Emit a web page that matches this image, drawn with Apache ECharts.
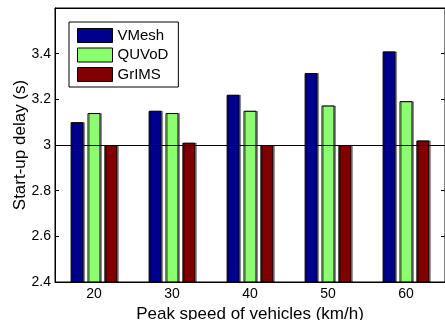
<!DOCTYPE html>
<html style="height: 100%">
<head>
    <meta charset="utf-8">
    <script src="https://cdn.jsdelivr.net/npm/echarts@6/dist/echarts.min.js"></script>
</head>
<body style="height: 100%; margin: 0; background: #fff">
    <div id="container" style="width: 445px; height: 320px"></div>
    <script type="text/javascript">

        let speeds = ['20', '30', '40', '50', '60'];
        let vmesh = [3.10, 3.15, 3.22, 3.315, 3.41];
        let quvod = [3.14, 3.14, 3.15, 3.173, 3.192];
        let grims = [3.00, 3.01, 3.00, 3.00, 3.02];

        let font = 'Liberation Sans, Arial, sans-serif';

        function makeBar(name, values, color) {
            return {
                name: name,
                type: 'bar',
                data: values,
                barWidth: 13,
                barGap: '30%',
                itemStyle: {
                    color: color,
                    borderColor: '#000',
                    borderWidth: 1,
                    shadowColor: 'rgba(0,0,0,0.35)',
                    shadowOffsetX: 1.5
                }
            };
        }

        let series = [
            makeBar('VMesh', vmesh, '#00008f'),
            makeBar('QUVoD', quvod, '#8cff70'),
            makeBar('GrIMS', grims, '#800000')
        ];
        // reference line at 3 s
        series[2].markLine = {
            silent: true,
            symbol: 'none',
            label: { show: false },
            lineStyle: { color: '#000', width: 1, type: 'solid' },
            data: [{ yAxis: 3 }]
        };

        let chart = echarts.init(document.getElementById('container'));
        chart.setOption({
            animation: false,
            textStyle: { fontFamily: font },
            grid: {
                left: 55, right: 0, top: 8, bottom: 38,
                outerBoundsMode: 'none',
                show: true, borderColor: '#000', borderWidth: 1
            },
            legend: {
                orient: 'vertical',
                left: 69, top: 22,
                padding: [6, 10, 5, 8],
                itemWidth: 35, itemHeight: 14, itemGap: 4.5,
                borderColor: '#000', borderWidth: 1,
                backgroundColor: '#fff',
                textStyle: { fontSize: 15, color: '#000', fontFamily: font },
                icon: 'rect',
                itemStyle: { borderColor: '#000', borderWidth: 1 },
                data: ['VMesh', 'QUVoD', 'GrIMS']
            },
            xAxis: [
                {
                    type: 'category',
                    data: speeds,
                    name: 'Peak speed of vehicles (km/h)',
                    nameLocation: 'middle',
                    nameGap: 22,
                    nameTextStyle: { fontSize: 17, color: '#000' },
                    axisLine: { lineStyle: { color: '#000' } },
                    axisTick: { inside: true, alignWithLabel: true, length: 4, lineStyle: { color: '#000' } },
                    axisLabel: { fontSize: 14, color: '#000', margin: 5 }
                },
                {
                    type: 'category',
                    data: speeds,
                    position: 'top',
                    axisLine: { lineStyle: { color: '#000' } },
                    axisTick: { inside: true, alignWithLabel: true, length: 4, lineStyle: { color: '#000' } },
                    axisLabel: { show: false }
                }
            ],
            yAxis: [
                {
                    type: 'value',
                    min: 2.4, max: 3.6, interval: 0.2,
                    name: 'Start-up delay (s)',
                    nameLocation: 'middle',
                    nameGap: 26,
                    nameMoveOverlap: false,
                    nameTextStyle: { fontSize: 17, color: '#000' },
                    axisLine: { show: true, lineStyle: { color: '#000' } },
                    axisTick: { show: true, inside: true, length: 4, lineStyle: { color: '#000' } },
                    splitLine: { show: false },
                    axisLabel: {
                        fontSize: 14, color: '#000', margin: 4,
                        formatter: function (v) {
                            if (v > 3.5) return '';
                            return String(Number(v.toFixed(1)));
                        }
                    }
                },
                {
                    type: 'value',
                    min: 2.4, max: 3.6, interval: 0.2,
                    position: 'right',
                    axisLine: { show: true, lineStyle: { color: '#000' } },
                    axisTick: { show: true, inside: true, length: 4, lineStyle: { color: '#000' } },
                    splitLine: { show: false },
                    axisLabel: { show: false }
                }
            ],
            series: series
        });

    </script>
</body>
</html>
